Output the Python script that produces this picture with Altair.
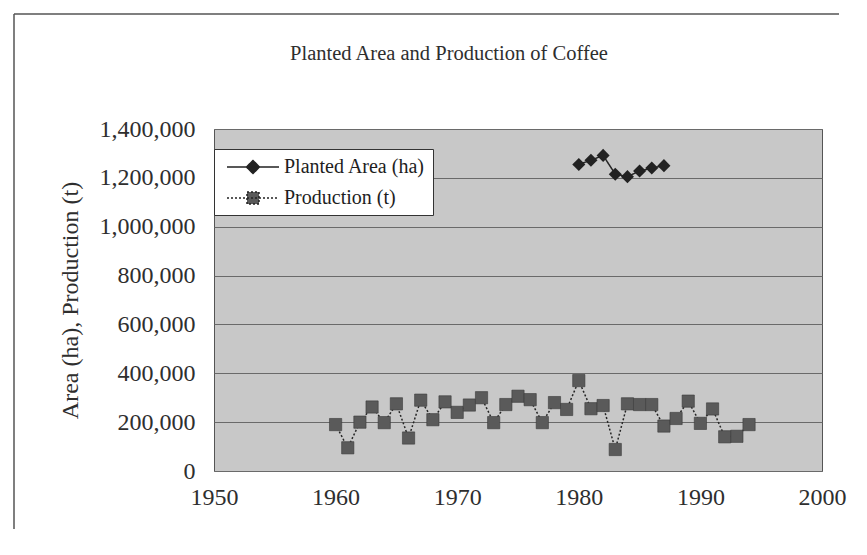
import altair as alt
import pandas as pd

# ---- data ----
area_years = [1980, 1981, 1982, 1983, 1984, 1985, 1986, 1987]
planted_area = [1255000, 1272000, 1292000, 1215000, 1205000, 1228000, 1240000, 1250000]

prod_years = [1960, 1961, 1962, 1963, 1964, 1965, 1966, 1967, 1968, 1969,
              1970, 1971, 1972, 1973, 1974, 1975, 1976, 1977, 1978, 1979,
              1980, 1981, 1982, 1983, 1984, 1985, 1986, 1987, 1988, 1989,
              1990, 1991, 1992, 1993, 1994]
production = [190000, 95000, 200000, 262000, 198000, 275000, 135000, 290000, 210000, 283000,
              240000, 270000, 300000, 198000, 272000, 306000, 292000, 198000, 280000, 252000,
              370000, 255000, 268000, 88000, 275000, 272000, 272000, 184000, 215000, 286000,
              195000, 254000, 140000, 142000, 190000]

series_names = ["Planted Area (ha)", "Production (t)"]
x_ticks = [1950, 1960, 1970, 1980, 1990, 2000]
y_ticks = [0, 200000, 400000, 600000, 800000, 1000000, 1200000, 1400000]
chart_title = "Planted Area and Production of Coffee"
y_title = "Area (ha), Production (t)"

df = pd.DataFrame({
    "year": area_years + prod_years,
    "value": planted_area + production,
    "series": [series_names[0]] * len(area_years) + [series_names[1]] * len(prod_years),
})
one = pd.DataFrame({"k": [0]})

FONT = "Liberation Serif"
TXT = "#2e2e2e"

x = alt.X("year:Q",
          scale=alt.Scale(domain=[1950, 2000], nice=False, zero=False),
          axis=alt.Axis(values=x_ticks, format="d", title=None, grid=False, ticks=False,
                        domain=False, labelPadding=14, labelFlush=False, labelFontSize=24,
                        labelFont=FONT, labelColor=TXT))
y = alt.Y("value:Q",
          scale=alt.Scale(domain=[0, 1400000], nice=False),
          axis=alt.Axis(values=y_ticks, format=",.0f", title=y_title, grid=True,
                        gridColor="#6a6a6a", gridWidth=1, ticks=False, domain=False,
                        labelPadding=19, labelFlush=False, labelFontSize=24,
                        labelFont=FONT, labelColor=TXT, titleFont=FONT, titleFontSize=24,
                        titleFontWeight="normal", titleColor=TXT, titlePadding=17))

diamond_path = "M-2.6,0L2.6,0M0,-0.65L0.65,0L0,0.65L-0.65,0Z"
square_path = "M-2.6,0L2.6,0M-0.6,-0.6L0.6,-0.6L0.6,0.6L-0.6,0.6Z"

legend = alt.Legend(
    title=None, orient="none", legendX=0, legendY=20,
    fillColor="white", strokeColor="#333333", padding=7,
    labelFont=FONT, labelFontSize=20, labelColor="#1e1e1e",
    symbolSize=400, symbolOffset=21, labelOffset=20, rowPadding=10,
    symbolStrokeWidth=1.5, symbolStrokeColor="#222222", symbolOpacity=1,
    symbolType=alt.ExprRef(expr="datum.value === '%s' ? '%s' : '%s'" % (series_names[0], diamond_path, square_path)),
    symbolFillColor=alt.ExprRef(expr="datum.value === '%s' ? '#222222' : '#5a5a5a'" % series_names[0]),
)

lines = alt.Chart(df).mark_line(strokeWidth=1.5, color="#262626").encode(
    x=x, y=y,
    strokeDash=alt.StrokeDash("series:N", scale=alt.Scale(domain=series_names, range=[[1, 0], [2, 2]]), legend=legend),
)

area_pts = alt.Chart(df).transform_filter(alt.datum.series == series_names[0]).mark_point(
    shape="diamond", filled=True, size=170, color="#222222", opacity=1
).encode(x=x, y=y)

prod_pts = alt.Chart(df).transform_filter(alt.datum.series == series_names[1]).mark_point(
    shape="square", filled=True, size=150, color="#5a5a5a", opacity=1,
    stroke="#3a3a3a", strokeWidth=0.6
).encode(x=x, y=y)

frame_top = alt.Chart(one).mark_rule(color="#555555", strokeWidth=1.5).encode(
    x=alt.value(-200), x2=alt.value(625), y=alt.value(-115))
frame_left = alt.Chart(one).mark_rule(color="#555555", strokeWidth=1.5).encode(
    x=alt.value(-200), y=alt.value(-115), y2=alt.value(400))

title = alt.Chart(one).mark_text(
    text=chart_title, font=FONT, fontSize=20.5, color=TXT, align="center", baseline="middle"
).encode(x=alt.value(235), y=alt.value(-75))

chart = alt.layer(frame_top, frame_left, title, lines, area_pts, prod_pts).properties(
    width=608, height=342, background="white"
).configure_view(
    fill="#c8c8c8", stroke="#555555", strokeWidth=1
)

chart.save("out.html", embed_options={"renderer": "svg", "actions": False})
